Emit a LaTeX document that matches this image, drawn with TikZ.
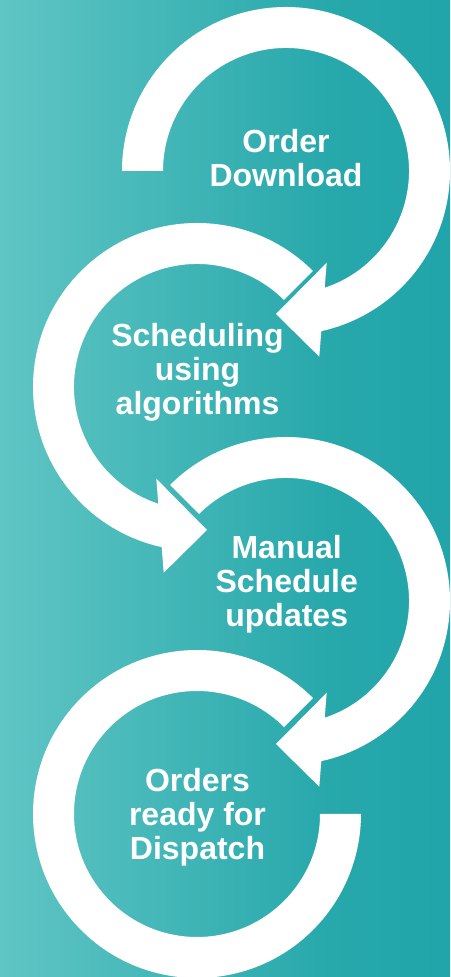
\documentclass[tikz,border=0pt]{standalone}
\usepackage{fontspec}
\setmainfont{Liberation Sans}
\definecolor{bgA}{HTML}{60C5C4}
\definecolor{bgB}{HTML}{27A8AB}
\definecolor{bgC}{HTML}{21A5AA}
\begin{document}
\begin{tikzpicture}[x=1pt,y=1pt,
  lbl/.style={text=white, font=\bfseries\fontsize{32}{34}\selectfont, align=center, inner sep=0pt},
  ring/.style={fill=white, draw=none}]
\useasboundingbox (0,0) rectangle (450,977);
\shade[left color=bgA, right color=bgB] (0,0) rectangle (331,977);
\shade[left color=bgB, right color=bgC] (330,0) rectangle (450,977);
\coordinate (c1) at (286,806);
\coordinate (c2) at (197,590);
\coordinate (c3) at (286,376);
\coordinate (c4) at (197,163);
% ring 1
\fill[ring, shift={(c1)}] (180:164pt) arc[start angle=180, end angle=-77.57, radius=164pt]
  -- (33.3,-185.7) -- (-10,-143) -- (40.7,-91.7) -- (-71.65:123pt)
  arc[start angle=-71.65, end angle=180, radius=123pt] -- cycle;
% ring 2
\fill[ring, shift={(c2)}] (45:164pt) arc[start angle=45, end angle=257.57, radius=164pt]
  -- (-33.3,-185.7) -- (10,-143) -- (-40.7,-91.7) -- (251.65:123pt)
  arc[start angle=251.65, end angle=45, radius=123pt] -- cycle;
% ring 3
\fill[ring, shift={(c3)}] (135:164pt) arc[start angle=135, end angle=-77.57, radius=164pt]
  -- (33.3,-185.7) -- (-10,-143) -- (40.7,-91.7) -- (-71.65:123pt)
  arc[start angle=-71.65, end angle=135, radius=123pt] -- cycle;
% ring 4
\fill[ring, shift={(c4)}] (45:164pt) arc[start angle=45, end angle=360, radius=164pt]
  -- (0:123pt) arc[start angle=360, end angle=45, radius=123pt] -- cycle;
\node[lbl] (t1) at (286,819) {Order\\Download};
\node[lbl] (t2) at (197.5,604.2) {Scheduling\\using\\algorithms};
\node[lbl] (t3) at (286.7,392.4) {Manual\\Schedule\\updates};
\node[lbl] (t4) at (197.5,159.5) {Orders\\ready for\\Dispatch};
\end{tikzpicture}
\end{document}
